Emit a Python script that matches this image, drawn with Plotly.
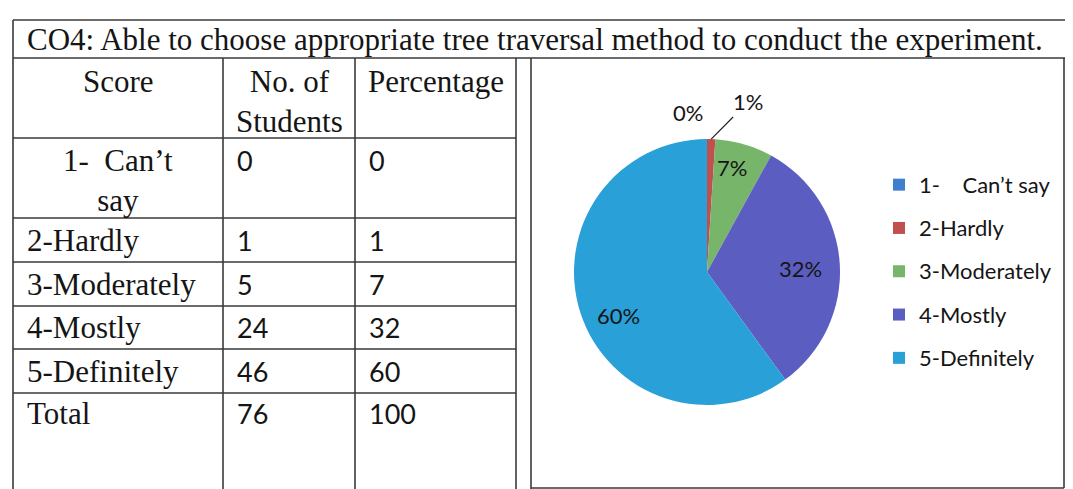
import math
import plotly.graph_objs as go

W, H = 1073, 489
OFF = 8  # page body margin of the browser

title = "CO4: Able to choose appropriate tree traversal method to conduct the experiment."
headers = ["Score", "No. of<br>Students", "Percentage"]
table_scores = ["1-\u00a0 Can\u2019t<br>say", "2-Hardly", "3-Moderately", "4-Mostly", "5-Definitely"]
legend_labels = ["1-\u00a0\u00a0\u00a0 Can\u2019t say", "2-Hardly", "3-Moderately", "4-Mostly", "5-Definitely"]
students = [0, 1, 5, 24, 46]
percentage = [0, 1, 7, 32, 60]
colors = ["#3F7FCF", "#C0504D", "#77B56A", "#5B5EC0", "#2AA0D8"]

# table grid (pixels in the picture)
col_x = [13, 223, 355, 516]
row_y = [20, 58, 138, 218, 262, 306, 349, 393, 489]
box_x = [531, 1064]
box_bottom = 488

# pie geometry (pixels)
cx, cy, R = 707, 272, 133
# where the slice labels sit (pixels)
pct_label_pos = [(688, 113), (748, 102), (732, 167), (800, 268), (618, 315)]

serif = "Liberation Serif"
sans = "Lato"
line_col = "#3a3a3a"


def px(x):
    return (x - OFF) / W


def py(y):
    return 1 - (y - OFF) / H


def hline(x0, x1, y):
    return dict(type="line", xref="paper", yref="paper", x0=px(x0), x1=px(x1),
                y0=py(y), y1=py(y), line=dict(color=line_col, width=1.6))


def vline(x, y0, y1):
    return dict(type="line", xref="paper", yref="paper", x0=px(x), x1=px(x),
                y0=py(y0), y1=py(y1), line=dict(color=line_col, width=1.6))


def label(text, x, y, size, family, xanchor="left"):
    return dict(text=text, x=px(x), y=py(y), xref="paper", yref="paper",
                xanchor=xanchor, yanchor="middle", showarrow=False,
                font=dict(family=family, size=size, color="#151515"))


shapes = [hline(col_x[0], W + OFF, row_y[0]), hline(col_x[0], W + OFF, row_y[1]),
          vline(col_x[0], row_y[0], H + OFF)]
for x in col_x[1:]:
    shapes.append(vline(x, row_y[1], H + OFF))
for y in row_y[2:-1]:
    shapes.append(hline(col_x[0], col_x[-1], y))
shapes += [vline(box_x[0], row_y[1], H + OFF), vline(box_x[1], row_y[1], box_bottom),
           hline(box_x[0], box_x[1], box_bottom)]

annotations = [label(title, 25, 39, 31, serif)]

# header row
annotations.append(label(headers[0], (col_x[0] + col_x[1]) / 2, 82, 31, serif, "center"))
annotations.append(label(headers[1], (col_x[1] + col_x[2]) / 2, 101, 31, serif, "center"))
annotations.append(label(headers[2], (col_x[2] + col_x[3]) / 2, 82, 31, serif, "center"))

# body rows
row_text_y = [160, 240, 284, 327, 371]
for i, (s, n, p) in enumerate(zip(table_scores, students, percentage)):
    if i == 0:
        annotations.append(label(s, (col_x[0] + col_x[1]) / 2, 180, 31, serif, "center"))
    else:
        annotations.append(label(s, col_x[0] + 12, row_text_y[i], 31, serif))
    annotations.append(label(str(n), col_x[1] + 12, row_text_y[i], 27, sans))
    annotations.append(label(str(p), col_x[2] + 12, row_text_y[i], 27, sans))

annotations.append(label("Total", col_x[0] + 12, 413, 31, serif))
annotations.append(label(str(sum(students)), col_x[1] + 12, 413, 27, sans))
annotations.append(label(str(sum(percentage)), col_x[2] + 12, 413, 27, sans))

# slice labels
cum = 0
mids = []
for p in percentage:
    mids.append((cum + p / 2) / 100 * 2 * math.pi)
    cum += p
for i, p in enumerate(percentage):
    lx, ly = pct_label_pos[i]
    if i == 1:
        # leader line from the thin slice to its label
        tip_x = cx + R * math.sin(mids[i])
        tip_y = cy - R * math.cos(mids[i])
        annotations.append(dict(text=f"{p}%", x=px(tip_x), y=py(tip_y), xref="paper", yref="paper",
                                ax=lx - tip_x, ay=ly - tip_y, showarrow=True, arrowhead=0,
                                arrowwidth=1.2, arrowcolor="#222", standoff=0,
                                font=dict(family=sans, size=22, color="#151515")))
    else:
        annotations.append(label(f"{p}%", lx, ly, 22, sans, "center"))

fig = go.Figure()
fig.add_trace(go.Pie(
    labels=[f'<span style="font-size:22px;baseline-shift:4px">{l}</span>' for l in legend_labels],
    values=percentage,
    sort=False,
    direction="clockwise",
    rotation=0,
    marker=dict(colors=colors, line=dict(width=0)),
    textinfo="none",
    domain=dict(x=[px(cx - R), px(cx + R)], y=[py(cy + R), py(cy - R)]),
    hoverinfo="label+value",
))

fig.update_layout(
    width=W, height=H,
    margin=dict(l=0, r=0, t=0, b=0),
    paper_bgcolor="white",
    plot_bgcolor="white",
    showlegend=True,
    legend=dict(x=px(879), y=py(158), xanchor="left", yanchor="top",
                font=dict(family=sans, size=31, color="#151515"),
                bgcolor="rgba(0,0,0,0)"),
    shapes=shapes,
    annotations=annotations,
)

fig.write_html("out.html")
